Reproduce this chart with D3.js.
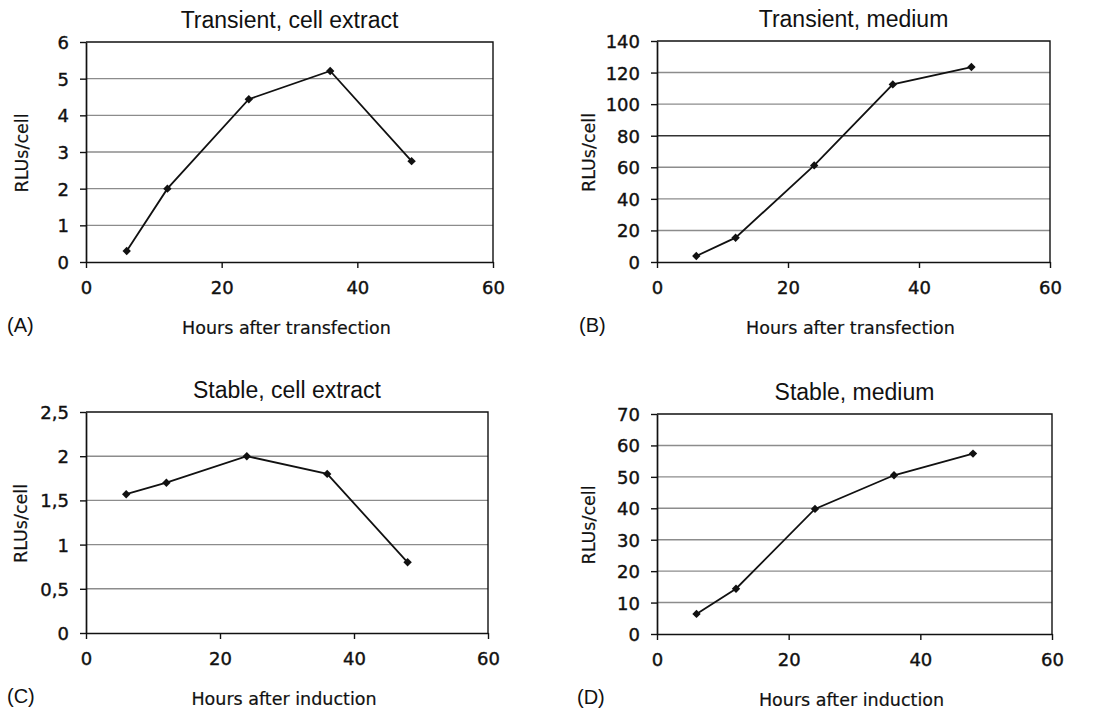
<!DOCTYPE html>
<html>
<head>
<meta charset="utf-8">
<script src="https://cdn.jsdelivr.net/npm/d3@7"></script>
<style>
  body { margin: 0; background: #fff; }
  svg { display: block; }
</style>
</head>
<body>
<svg id="chart"></svg>
<script>
let width = 1095;
let height = 711;

// data
let hours = [6, 12, 24, 36, 48];
let transientExtract = [0.3, 2.0, 4.44, 5.21, 2.75];
let transientMedium = [3.8, 15.4, 61.2, 112.5, 123.5];
let stableExtract = [1.57, 1.70, 2.0, 1.80, 0.80];
let stableMedium = [6.4, 14.4, 39.8, 50.5, 57.4];

let xTicks = [0, 20, 40, 60];
let ticksA = [0, 1, 2, 3, 4, 5, 6];
let ticksB = [0, 20, 40, 60, 80, 100, 120, 140];
let ticksC = [0, 0.5, 1, 1.5, 2, 2.5];
let ticksD = [0, 10, 20, 30, 40, 50, 60, 70];

let titles = ['Transient, cell extract', 'Transient, medium', 'Stable, cell extract', 'Stable, medium'];
let xLabels = ['Hours after transfection', 'Hours after transfection', 'Hours after induction', 'Hours after induction'];
let tags = ['(A)', '(B)', '(C)', '(D)'];

let svg = d3.select('#chart').attr('width', width).attr('height', height);

let panels = [
  {values: transientExtract, ticks: ticksA, box: [86, 493, 42, 262], tagX: 7, yLabX: 28, darkTick: null},
  {values: transientMedium, ticks: ticksB, box: [657, 1050, 41, 262], tagX: 579, yLabX: 595, darkTick: 80},
  {values: stableExtract, ticks: ticksC, box: [86, 488, 412, 633], tagX: 7, yLabX: 27, darkTick: null},
  {values: stableMedium, ticks: ticksD, box: [657, 1052, 414, 634], tagX: 577, yLabX: 595, darkTick: null}
];

let commaFormat = d => String(d).replace('.', ',');

let drawPanel = (p, i) => {
  let [left, right, top, bottom] = p.box;
  let g = svg.append('g');

  let xScale = d3.scaleLinear().domain([0, 60]).range([left, right]);
  let yScale = d3.scaleLinear()
    .domain([0, p.ticks[p.ticks.length - 1]])
    .range([bottom, top]);

  // gridlines
  g.selectAll('.grid')
    .data(p.ticks.slice(1, -1))
    .enter()
    .append('line')
    .attr('x1', left).attr('x2', right)
    .attr('y1', d => yScale(d)).attr('y2', d => yScale(d))
    .attr('stroke', d => d === p.darkTick ? '#333' : '#8c8c8c')
    .attr('stroke-width', 1.4);

  // plot frame (top and right)
  g.append('path')
    .attr('d', `M${left},${top}H${right}V${bottom}`)
    .attr('fill', 'none')
    .attr('stroke', '#111')
    .attr('stroke-width', 1.4);

  let xAxis = d3.axisBottom(xScale)
    .tickValues(xTicks)
    .tickSize(6)
    .tickSizeOuter(0)
    .tickPadding(13);
  let gx = g.append('g')
    .attr('transform', 'translate(0,' + bottom + ')')
    .call(xAxis);

  let yAxis = d3.axisLeft(yScale)
    .tickValues(p.ticks)
    .tickSize(6)
    .tickSizeOuter(0)
    .tickPadding(11)
    .tickFormat(commaFormat);
  let gy = g.append('g')
    .attr('transform', 'translate(' + left + ',0)')
    .call(yAxis);

  [gx, gy].forEach(ax => {
    ax.select('.domain').attr('stroke', '#111').attr('stroke-width', 1.7);
    ax.selectAll('.tick line').attr('stroke', '#111').attr('stroke-width', 1.4);
    ax.selectAll('.tick text')
      .attr('fill', '#111')
      .attr('stroke', '#111')
      .attr('stroke-width', 0.4)
      .style('font-family', 'DejaVu Sans, Verdana, sans-serif')
      .style('font-size', '18px');
  });
  gy.selectAll('.tick text').attr('dy', '0.36em');

  // series line
  let line = d3.line()
    .x((d, j) => xScale(hours[j]))
    .y(d => yScale(d));
  g.append('path')
    .datum(p.values)
    .attr('d', line)
    .attr('fill', 'none')
    .attr('stroke', '#111')
    .attr('stroke-width', 1.8);

  // diamond markers
  g.selectAll('.marker')
    .data(p.values)
    .enter()
    .append('path')
    .attr('class', 'marker')
    .attr('d', d3.symbol().type(d3.symbolDiamond2).size(45))
    .attr('transform', (d, j) => 'translate(' + xScale(hours[j]) + ',' + yScale(d) + ')')
    .attr('fill', '#111');

  // title
  g.append('text')
    .attr('x', (left + right) / 2)
    .attr('y', top - 14)
    .attr('text-anchor', 'middle')
    .style('font-family', 'Liberation Sans, Arial, sans-serif')
    .style('font-size', '23px')
    .attr('fill', '#111')
    .text(titles[i]);

  // x axis label
  g.append('text')
    .attr('x', (left + right) / 2 - 3)
    .attr('y', bottom + 72)
    .attr('text-anchor', 'middle')
    .style('font-family', 'DejaVu Sans, Verdana, sans-serif')
    .style('font-size', '17.5px')
    .attr('fill', '#111')
    .attr('stroke', '#111')
    .attr('stroke-width', 0.2)
    .text(xLabels[i]);

  // y axis label
  g.append('text')
    .attr('transform', 'translate(' + p.yLabX + ',' + ((top + bottom) / 2 + 1) + ') rotate(-90)')
    .attr('text-anchor', 'middle')
    .style('font-family', 'DejaVu Sans, Verdana, sans-serif')
    .style('font-size', '17.5px')
    .attr('fill', '#111')
    .attr('stroke', '#111')
    .attr('stroke-width', 0.2)
    .text('RLUs/cell');

  // panel tag
  g.append('text')
    .attr('x', p.tagX)
    .attr('y', bottom + 70)
    .style('font-family', 'Liberation Sans, Arial, sans-serif')
    .style('font-size', '20px')
    .attr('fill', '#111')
    .text(tags[i]);
}

panels.forEach(drawPanel);
</script>
</body>
</html>
